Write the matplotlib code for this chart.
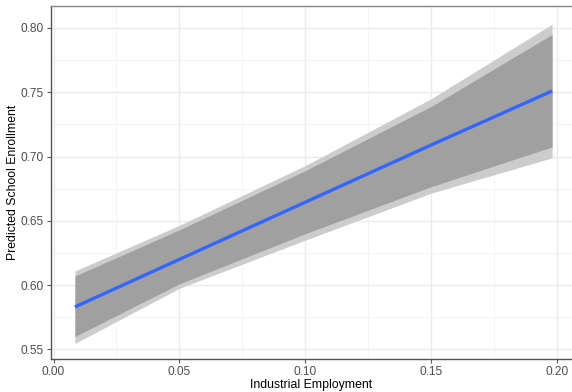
import matplotlib
matplotlib.use("Agg")
import matplotlib.pyplot as plt
from matplotlib.ticker import MultipleLocator

plt.rcParams['font.family'] = ['Liberation Sans', 'DejaVu Sans']

x_vals = [0.0085, 0.05, 0.10, 0.15, 0.198]
fit = [0.583, 0.620, 0.6645, 0.709, 0.751]
inner_hi = [0.607, 0.643, 0.689, 0.739, 0.795]
inner_lo = [0.560, 0.601, 0.640, 0.6766, 0.7075]
outer_hi = [0.611, 0.6465, 0.693, 0.745, 0.803]
outer_lo = [0.5546, 0.5975, 0.635, 0.6715, 0.699]

x_ticks = [0.00, 0.05, 0.10, 0.15, 0.20]
x_ticklabels = ["0.00", "0.05", "0.10", "0.15", "0.20"]
y_ticks = [0.55, 0.60, 0.65, 0.70, 0.75, 0.80]
y_ticklabels = ["0.55", "0.60", "0.65", "0.70", "0.75", "0.80"]

fig = plt.figure(figsize=(5.72, 3.92), dpi=100)
W, H = 572, 392
ax = fig.add_axes([51 / W, (H - 359) / H, 1 - 51 / W, (359 - 6) / H])

ax.fill_between(x_vals, outer_lo, outer_hi, color="#cccccc", linewidth=0, zorder=2)
ax.fill_between(x_vals, inner_lo, inner_hi, color="#a0a0a0", linewidth=0, zorder=3)
ax.plot(x_vals, fit, color="#3366FF", linewidth=2.4, zorder=4, solid_capstyle="butt")

ax.set_xlim(-0.001, 0.2059)
ax.set_ylim(0.5425, 0.8171)

ax.set_xticks(x_ticks)
ax.set_xticklabels(x_ticklabels)
ax.set_yticks(y_ticks)
ax.set_yticklabels(y_ticklabels)
ax.xaxis.set_minor_locator(MultipleLocator(0.025))
ax.yaxis.set_minor_locator(MultipleLocator(0.025))

ax.grid(which="major", color="#ebebeb", linewidth=1.0, zorder=0)
ax.grid(which="minor", color="#f2f2f2", linewidth=0.6, zorder=0)
ax.set_axisbelow(True)

ax.tick_params(which="major", length=3, width=0.8, color="#555555",
               labelsize=8.6, labelcolor="#4d4d4d", pad=2)
ax.tick_params(which="minor", length=0)

for s in ["left", "bottom"]:
    ax.spines[s].set_color("#555555")
    ax.spines[s].set_linewidth(1.0)
ax.spines["top"].set_color("#888888")
ax.spines["top"].set_linewidth(1.0)
ax.spines["right"].set_visible(False)

ax.set_xlabel("Industrial Employment", fontsize=8.8, color="black", labelpad=1)
ax.set_ylabel("Predicted School Enrollment", fontsize=8.8, color="black", labelpad=1.5)

fig.savefig("out.png", dpi=100)
